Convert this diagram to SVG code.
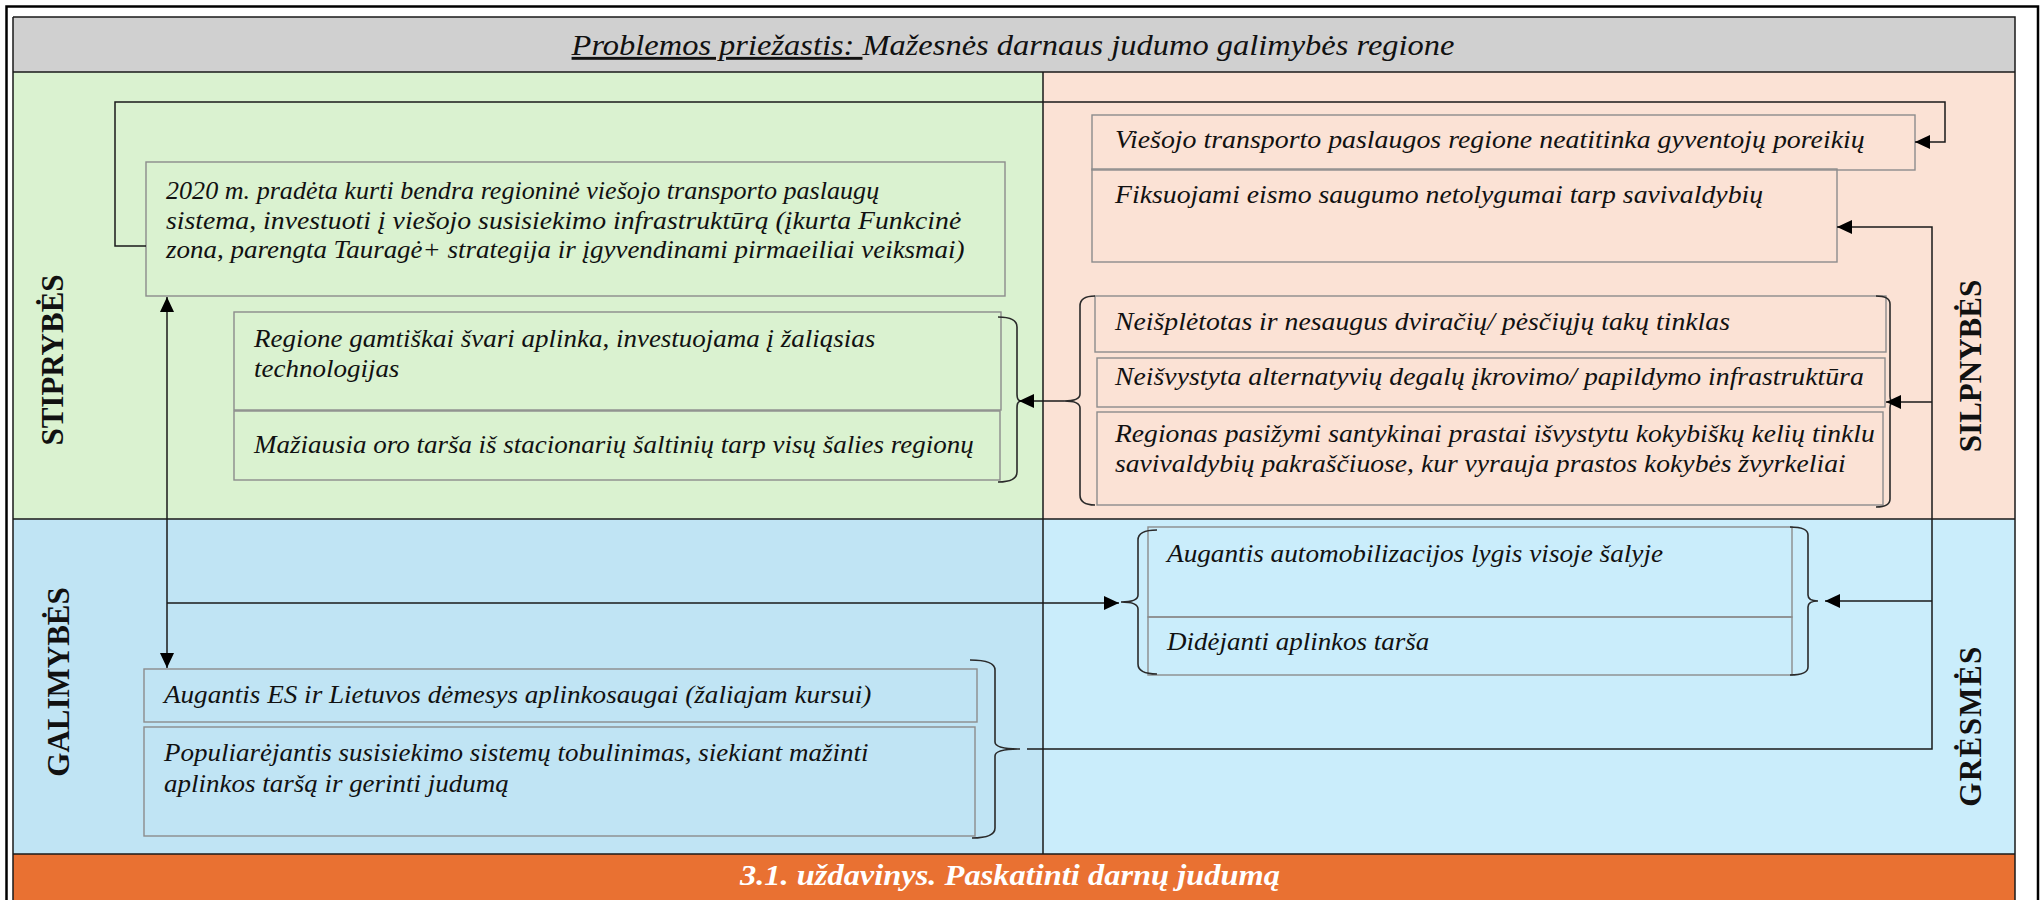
<svg xmlns="http://www.w3.org/2000/svg" width="2044" height="900" viewBox="0 0 2044 900">
<style>
.t{font-family:"Liberation Serif","Times New Roman",serif;font-style:italic;font-size:25px;fill:#111}
.h{font-family:"Liberation Serif","Times New Roman",serif;font-style:italic;font-size:29px;fill:#111}
.o{font-family:"Liberation Serif","Times New Roman",serif;font-style:italic;font-weight:bold;font-size:29px;fill:#fff}
.lab{font-family:"Liberation Serif","Times New Roman",serif;font-weight:bold;font-size:31px;fill:#111}
.box{fill:none;stroke:#8c8c8c;stroke-width:1.4}
.br{fill:none;stroke:#2a2a2a;stroke-width:1.6}
.ln{fill:none;stroke:#1a1a1a;stroke-width:1.5}
.div{stroke:#1a1a1a;stroke-width:1.5;fill:none}
</style>
<defs>
<marker id="ah" markerUnits="userSpaceOnUse" markerWidth="15" markerHeight="14" refX="15" refY="7" orient="auto-start-reverse">
<path d="M0,0 L15,7 L0,14 Z" fill="#000"/>
</marker>
</defs>
<rect x="0" y="0" width="2044" height="900" fill="#fff"/>
<g id="background">
<rect x="13" y="17" width="2002" height="55" fill="#d0d0d0"/>
<rect x="13" y="72" width="1030" height="447" fill="#daf2d0"/>
<rect x="1043" y="72" width="972" height="447" fill="#fbe2d5"/>
<rect x="13" y="519" width="1030" height="335" fill="#c0e4f4"/>
<rect x="1043" y="519" width="972" height="335" fill="#caedfb"/>
<rect x="13" y="854" width="2002" height="50" fill="#e97132"/>
<path class="div" d="M13 17 H2015 V904 M13 17 V904 M13 72 H2015 M13 519 H2015 M13 854 H2015 M1043 72 V854"/>
<path d="M6.5 910 V6.5 H2038 V910" fill="none" stroke="#000" stroke-width="2.5"/>
</g>
<g id="header">
<text class="h" transform="translate(1013 55) scale(1.12 1)" text-anchor="middle"><tspan text-decoration="underline">Problemos priežastis: </tspan>Mažesnės darnaus judumo galimybės regione</text>
</g>
<g id="labels">
<text class="lab" transform="translate(63 360) rotate(-90)" text-anchor="middle">STIPRYBĖS</text>
<text class="lab" transform="translate(69 682) rotate(-90)" text-anchor="middle">GALIMYBĖS</text>
<text class="lab" transform="translate(1981 366) rotate(-90)" text-anchor="middle">SILPNYBĖS</text>
<text class="lab" transform="translate(1981 726) rotate(-90)" text-anchor="middle" letter-spacing="1.4">GRĖSMĖS</text>
</g>
<g id="s1">
<rect class="box" x="146" y="162" width="859" height="134"/>
<text class="t" transform="translate(166 199) scale(1.045 1)">2020 m. pradėta kurti bendra regioninė viešojo transporto paslaugų</text>
<text class="t" transform="translate(166 229) scale(1.11 1)">sistema, investuoti į viešojo susisiekimo infrastruktūrą (įkurta Funkcinė</text>
<text class="t" transform="translate(166 258) scale(1.08 1)">zona, parengta Tauragė+ strategija ir įgyvendinami pirmaeiliai veiksmai)</text>
</g>
<g id="s2">
<rect class="box" x="234" y="312" width="767" height="98"/>
<text class="t" transform="translate(254 347) scale(1.08 1)"><tspan x="0" y="0">Regione gamtiškai švari aplinka, investuojama į žaliąsias</tspan><tspan x="0" y="30">technologijas</tspan></text>
</g>
<g id="s3">
<rect class="box" x="234" y="411" width="766" height="69"/>
<text class="t" transform="translate(254 453) scale(1.08 1)">Mažiausia oro tarša iš stacionarių šaltinių tarp visų šalies regionų</text>
</g>
<g id="w1">
<rect class="box" x="1092" y="115" width="823" height="55"/>
<text class="t" transform="translate(1115 148) scale(1.115 1)">Viešojo transporto paslaugos regione neatitinka gyventojų poreikių</text>
</g>
<g id="w2">
<rect class="box" x="1092" y="169" width="745" height="93"/>
<text class="t" transform="translate(1115 203) scale(1.11 1)">Fiksuojami eismo saugumo netolygumai tarp savivaldybių</text>
</g>
<g id="w3">
<rect class="box" x="1095" y="296" width="791" height="56"/>
<text class="t" transform="translate(1115 330) scale(1.11 1)">Neišplėtotas ir nesaugus dviračių/ pėsčiųjų takų tinklas</text>
</g>
<g id="w4">
<rect class="box" x="1097" y="358" width="788" height="49"/>
<text class="t" transform="translate(1115 385) scale(1.11 1)">Neišvystyta alternatyvių degalų įkrovimo/ papildymo infrastruktūra</text>
</g>
<g id="w5">
<rect class="box" x="1097" y="412" width="786" height="93"/>
<text class="t" transform="translate(1115 442) scale(1.105 1)"><tspan x="0" y="0">Regionas pasižymi santykinai prastai išvystytu kokybiškų kelių tinklu</tspan><tspan x="0" y="30">savivaldybių pakraščiuose, kur vyrauja prastos kokybės žvyrkeliai</tspan></text>
</g>
<g id="g1">
<rect class="box" x="1148" y="527" width="644" height="90"/>
<text class="t" transform="translate(1167 562) scale(1.09 1)">Augantis automobilizacijos lygis visoje šalyje</text>
</g>
<g id="g2">
<rect class="box" x="1148" y="617" width="644" height="58"/>
<text class="t" transform="translate(1167 650) scale(1.08 1)">Didėjanti aplinkos tarša</text>
</g>
<g id="o1">
<rect class="box" x="144" y="669" width="833" height="53"/>
<text class="t" transform="translate(164 703) scale(1.085 1)">Augantis ES ir Lietuvos dėmesys aplinkosaugai (žaliajam kursui)</text>
</g>
<g id="o2">
<rect class="box" x="144" y="727" width="831" height="109"/>
<text class="t" transform="translate(164 761) scale(1.08 1)"><tspan x="0" y="0">Populiarėjantis susisiekimo sistemų tobulinimas, siekiant mažinti</tspan><tspan x="0" y="31">aplinkos taršą ir gerinti judumą</tspan></text>
</g>
<g id="task">
<text class="o" transform="translate(1010 885) scale(1.12 1)" text-anchor="middle">3.1. uždavinys. Paskatinti darnų judumą</text>
</g>
<g id="brackets">
<path class="br" d="M998 317 Q1017 317 1017 327 L1017 394 Q1017 401 1021 401 Q1017 401 1017 408 L1017 472 Q1017 482 998 482"/>
<path class="br" d="M1095 296 Q1080 296 1080 306 L1080 394 Q1080 401 1064 401 Q1080 401 1080 408 L1080 495 Q1080 505 1095 505"/>
<path class="br" d="M1876 296 Q1890 296 1890 304 L1890 396 Q1890 402 1894 402 Q1890 402 1890 408 L1890 499 Q1890 507 1876 507"/>
<path class="br" d="M1157 530 Q1138 530 1138 540 L1138 595 Q1138 602 1121 602 Q1138 602 1138 609 L1138 664 Q1138 674 1157 674"/>
<path class="br" d="M1790 527 Q1808 527 1808 535 L1808 595 Q1808 601 1818 601 Q1808 601 1808 607 L1808 667 Q1808 675 1790 675"/>
<path class="br" d="M970 660 Q995 660 995 670 L995 742 Q995 749 1020 749 Q995 749 995 756 L995 828 Q995 838 972 838"/>
</g>
<g id="connectors">
<path class="ln" d="M146 246 H115 V102 H1945 V142 H1915" marker-end="url(#ah)"/>
<path class="ln" d="M167 297 V668" marker-start="url(#ah)" marker-end="url(#ah)"/>
<path class="ln" d="M167 603 H1119" marker-end="url(#ah)"/>
<path class="ln" d="M1064 401 H1019" marker-end="url(#ah)"/>
<path class="ln" d="M1027 749 H1932 V227 H1837" marker-end="url(#ah)"/>
<path class="ln" d="M1932 402 H1886" marker-end="url(#ah)"/>
<path class="ln" d="M1932 601 H1825" marker-end="url(#ah)"/>
</g>
</svg>
